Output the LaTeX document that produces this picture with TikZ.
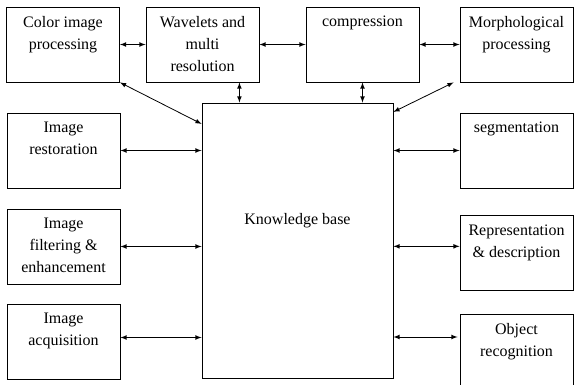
\documentclass[tikz,border=0pt]{standalone}
\usepackage{fontspec}
\setmainfont{Liberation Serif}

\begin{document}
\begin{tikzpicture}[x=0.75pt, y=-0.75pt,
	font=\fontsize{12}{16.5}\selectfont,
	txt/.style={anchor=north, align=center, inner sep=0pt, yshift=-7pt},
	box/.style={draw, line width=0.65pt, minimum width=84.75pt, minimum height=56.25pt,
		inner sep=0pt, label={[txt]north:#1}},
	arr/.style={latex-latex, line width=0.6pt}]

		\useasboundingbox (0, 0) rectangle (575, 385);

		\node[box={Color image\\processing}] (color) at (63, 44.5) {};
		\node[box={Wavelets and\\multi\\resolution}] (wave) at (202.5, 44.5) {};
		\node[box={compression}] (comp) at (362.5, 44.5) {};
		\node[box={Morphological\\processing}] (morph) at (516.5, 44.5) {};

		\node[draw, line width=0.65pt, minimum width=143.25pt, minimum height=206.25pt,
			label={[txt, yshift=-76pt]north:Knowledge base}] (kb) at (297.5, 240.5) {};

		\node[box={Image\\restoration}] (rest) at (63.5, 150.5) {};
		\node[box={Image\\filtering \&\\enhancement}] (filt) at (63.5, 246.5) {};
		\node[box={Image\\acquisition}] (acq) at (63.5, 341.5) {};

		\node[box={segmentation}] (seg) at (516.5, 150.5) {};
		\node[box={Representation\\\& description}] (repr) at (516.5, 253) {};
		\node[box={Object\\recognition}] (obj) at (516.5, 352) {};

		\draw[arr] (color.east) -- (wave.west);
		\draw[arr] (wave.east) -- (comp.west);
		\draw[arr] (comp.east) -- (morph.west);

		\draw[arr] ([xshift=-15pt]wave.south east) -- ([xshift=-15pt]wave.south east |- kb.north);
		\draw[arr] (comp.south) -- (comp.south |- kb.north);
		\draw[arr] (color.south east) -- ([yshift=-16pt]kb.north west);
		\draw[arr] ([xshift=-4.5pt]morph.south west) -- ([yshift=-7pt]kb.north east);

		\draw[arr] (rest.east) -- (rest.east -| kb.west);
		\draw[arr] (filt.east) -- (filt.east -| kb.west);
		\draw[arr] ([yshift=3pt]acq.east) -- ([yshift=3pt]acq.east -| kb.west);

		\draw[arr] (seg.west -| kb.east) -- (seg.west);
		\draw[arr] ([yshift=5pt]repr.west -| kb.east) -- ([yshift=5pt]repr.west);
		\draw[arr] ([yshift=11.25pt]obj.west -| kb.east) -- ([xshift=-1.5pt, yshift=11.25pt]obj.west);

	\end{tikzpicture}
\end{document}
